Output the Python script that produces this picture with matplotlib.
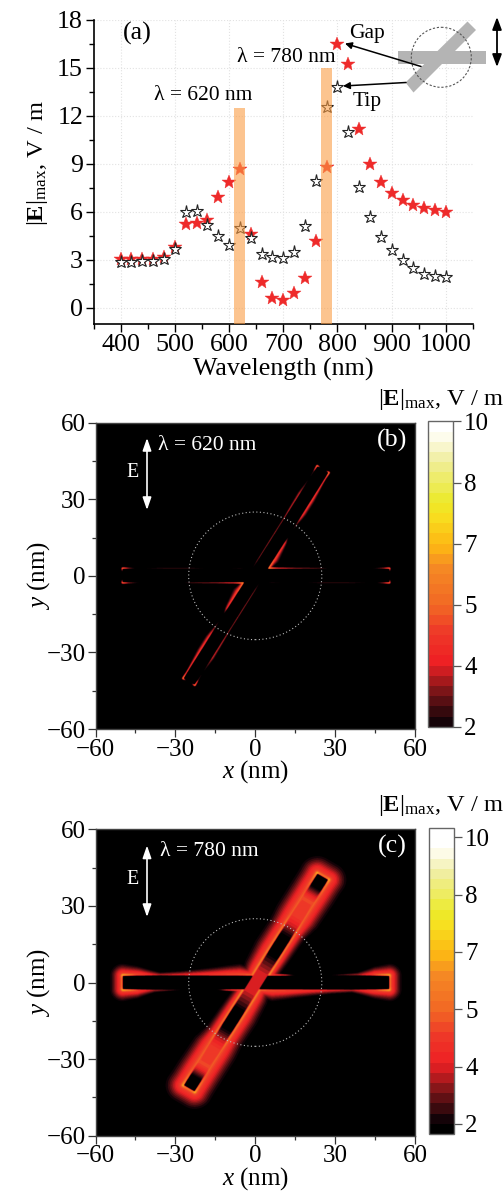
import numpy as np
import matplotlib
matplotlib.use('Agg')
import matplotlib.pyplot as plt
from matplotlib.colors import LinearSegmentedColormap, ListedColormap, Normalize
from matplotlib.patches import Circle, Polygon, Rectangle
from matplotlib.ticker import MultipleLocator

plt.rcParams['font.family'] = ['Liberation Serif', 'DejaVu Serif']
plt.rcParams['mathtext.fontset'] = 'custom'
plt.rcParams['mathtext.rm'] = 'Liberation Serif'
plt.rcParams['mathtext.bf'] = 'Liberation Serif:bold'
plt.rcParams['mathtext.it'] = 'Liberation Serif:italic'

# ---- panel (a) data
wavelength = [400, 420, 440, 460, 480, 500, 520, 540, 560, 580, 600, 620, 640, 660, 680, 700,
              720, 740, 760, 780, 800, 820, 840, 860, 880, 900, 920, 940, 960, 980, 1000]
gap_field = [3.05, 3.05, 3.05, 3.05, 3.2, 3.8, 5.25, 5.3, 5.5, 6.95, 7.85, 8.7, 4.6, 1.6, 0.65, 0.5,
             0.95, 1.9, 4.15, 8.8, 16.45, 15.25, 11.15, 9.0, 7.85, 7.2, 6.75, 6.45, 6.25, 6.1, 6.0]
tip_field = [2.85, 2.85, 2.9, 2.9, 3.05, 3.65, 6.0, 6.05, 5.2, 4.5, 3.95, 5.0, 4.35, 3.35, 3.15, 3.1,
             3.5, 5.1, 7.95, 12.55, 13.8, 10.95, 7.55, 5.65, 4.4, 3.6, 3.0, 2.5, 2.1, 2.0, 1.95]
band_centers = [620, 780]
band_tops = [12.5, 15.0]

# ---- colour scale
cb_values = [2.0, 2.8, 3.6, 4.45, 5.2, 6.2, 6.8, 7.6, 8.0, 9.1, 9.7, 10.0]
cb_colors = ['#150308', '#7a1518', '#ee2024', '#ee3a28', '#f26a24', '#f58a24',
             '#fdb813', '#f7e020', '#ecea2a', '#f0eea0', '#fdfbe8', '#ffffff']
cb_ticks = [2.0, 3.6, 5.2, 6.8, 8.4, 10.0]
cb_ticklabels = ['2', '4', '5', '7', '8', '10']
n_bands = 30

# ---- rod geometry (nm)
h_half_len, h_half_wid = 50.0, 2.7
d_angle, d_half_len, d_half_wid = 58.8, 48.5, 2.45

# ---- field along rod edges: position, edge value, halo reach
b_d_s = [-48.5, -46, -44, -36, -30, -24, -20, -16, -9, -5, -3, 0, 5, 15, 24, 28, 36, 43, 46, 48.5]
b_d_e = [10.0, 6.5, 5.5, 5.5, 4.8, 3.0, 1.5, 5.0, 6.5, 9.5, 3.0, 1.5, 4.0, 4.6, 4.4, 4.2, 4.0, 2.2, 3.5, 9.5]
b_d_w = [0.5, 0.45, 0.6, 1.3, 1.3, 0.5, 0.3, 1.0, 1.9, 0.7, 0.35, 0.3, 0.38, 0.38, 0.38, 0.6, 0.9, 0.45, 0.4, 0.5]
b_h_s = [-50, -48, -45, -35, -25, -15, -6, 0, 3.6, 5, 8, 15, 24, 30, 40, 45, 48, 50]
b_h_e = [9.0, 4.5, 2.2, 3.4, 3.4, 2.0, 3.0, 1.5, 1.5, 10.5, 6.5, 4.6, 3.8, 1.5, 1.5, 3.0, 4.5, 9.0]
b_h_w = [0.5, 0.45, 0.35, 0.35, 0.35, 0.35, 0.35, 0.3, 0.3, 0.5, 0.42, 0.38, 0.35, 0.3, 0.3, 0.35, 0.45, 0.5]

c_d_s = [-48.5, -46, -41, -30, -24, -12, -5, 0, 5, 14, 24, 30, 41, 46, 48.5]
c_d_e = [11.0, 8.0, 5.6, 5.4, 7.2, 8.0, 9.0, 7.0, 8.0, 8.0, 7.4, 5.4, 5.4, 8.0, 11.0]
c_d_w = [5.6, 5.5, 5.5, 5.2, 3.8, 3.3, 2.8, 3.3, 4.5, 5.2, 5.0, 5.5, 5.5, 5.5, 5.6]
c_h_s = [-50, -45, -36, -28, -15, -6, 2, 5, 11, 14, 20, 28, 38, 44, 50]
c_h_e = [11.0, 5.0, 3.6, 4.0, 4.6, 5.0, 8.0, 7.0, 5.6, 3.2, 1.5, 2.8, 3.4, 4.6, 11.0]
c_h_w = [3.9, 3.2, 1.3, 1.7, 2.9, 3.9, 1.3, 0.8, 0.5, 0.35, 0.2, 0.35, 1.3, 2.9, 3.9]
# field inside the tilted rod in map (c), by distance from the centre
c_in_s = [0, 4, 8, 11, 13, 20, 23, 26, 30, 38, 41, 44, 48.5]
c_in_e = [3.6, 3.6, 2.8, 2.2, 1.5, 1.5, 2.4, 3.5, 4.4, 4.6, 3.2, 1.5, 1.5]


W, H = 504, 1195
PX = 0.72  # points per pixel at dpi 100
fig = plt.figure(figsize=(W / 100, H / 100), dpi=100, facecolor='white')


def box(l, t, r, b, **kw):
    return fig.add_axes([l / W, 1 - b / H, (r - l) / W, (b - t) / H], **kw)


def rod(X, Y, angle, L, hw, s_k, e_k, w_k, hmax, tipf):
    c, s = np.cos(np.radians(angle)), np.sin(np.radians(angle))
    S = X * c + Y * s
    T = -X * s + Y * c
    ds = np.maximum(np.abs(S) - L, 0)
    dt = np.maximum(np.abs(T) - hw, 0)
    d = np.hypot(ds, dt)
    side = np.where(T >= 0, S, -S)
    edge = np.interp(side, s_k, e_k)
    reach = np.interp(side, s_k, w_k)
    face = (ds > 0) & (dt == 0)
    edge = np.where(face, edge * (tipf + (1 - tipf) * (T / hw) ** 4), edge)
    top = np.minimum(edge, hmax)
    f = 1 + (top - 1) * np.exp(-(d / reach) ** 1.6) + (edge - top) * np.exp(-d / 0.28)
    return f, (ds == 0) & (dt == 0), S


def soften(F, sigma_nm, step):
    n = F.shape[0]
    k = np.fft.fftfreq(n, d=step)
    g = np.exp(-2 * (np.pi * k * sigma_nm) ** 2)
    return np.fft.ifft2(np.fft.fft2(F) * np.outer(g, g)).real


def field_map(d_s, d_e, d_w, h_s, h_e, h_w, hmax, tipf, sigma, in_s=None, in_e=None):
    g = np.linspace(-60, 60, 961)
    X, Y = np.meshgrid(g, g)
    fh, inh, _ = rod(X, Y, 0.0, h_half_len, h_half_wid, h_s, h_e, h_w, hmax, tipf)
    fd, ind, sd = rod(X, Y, d_angle, d_half_len, d_half_wid, d_s, d_e, d_w, hmax, tipf)
    F = np.maximum(fh, fd)
    F[inh] = 1.0
    F[ind] = 1.0 if in_s is None else np.interp(np.abs(sd[ind]), in_s, in_e)
    return soften(F, sigma, g[1] - g[0])


def make_cmap(vmin, vmax):
    vals = np.array(cb_values)
    xs = (vals - vmin) / (vmax - vmin)
    nodes = [(float(x), col) for x, col in zip(xs, cb_colors) if 0 <= x <= 1]
    if nodes[0][0] > 0:
        nodes.insert(0, (0.0, '#000000'))
    if nodes[-1][0] < 1:
        nodes.append((1.0, '#ffffff'))
    base = LinearSegmentedColormap.from_list('field', nodes)
    cm = ListedColormap(base(np.linspace(0, 1, n_bands)))
    cm.set_under('black')
    cm.set_over('white')
    return cm


def map_panel(t, b, F, vmin, vmax, cb_t, cb_b, cb_l, cb_r):
    ax = box(95.5, t, 415, b)
    cmap = make_cmap(vmin, vmax)
    im = ax.imshow(F, origin='lower', extent=(-60, 60, -60, 60), aspect='auto',
                   cmap=cmap, norm=Normalize(vmin, vmax), interpolation='antialiased')
    ax.add_patch(Circle((0, 0), 25, fill=False, ec='#b8b8b8', lw=0.8, ls=(0, (1, 2.2))))
    ax.set_xlim(-60, 60)
    ax.set_ylim(-60, 60)
    ax.set_xticks([-60, -30, 0, 30, 60])
    ax.set_yticks([-60, -30, 0, 30, 60])
    ax.xaxis.set_minor_locator(MultipleLocator(15))
    ax.yaxis.set_minor_locator(MultipleLocator(15))
    ax.tick_params(which='major', length=5.5, width=0.9, labelsize=25 * PX, color='#333333', pad=1.5)
    ax.tick_params(which='minor', length=3, width=0.9, color='#333333')
    for sp in ax.spines.values():
        sp.set_color('#444444')
        sp.set_linewidth(1.0)
    ax.set_xlabel(r'$\mathit{x}$ (nm)', fontsize=25 * PX, va='center')
    ax.xaxis.set_label_coords(0.5, -43 / (b - t))
    ax.set_ylabel(r'$\mathit{y}$ (nm)', fontsize=25 * PX, va='center')
    ax.yaxis.set_label_coords(-57 / 319.5, 0.5)
    cax = box(cb_l, cb_t, cb_r, cb_b)
    cb = fig.colorbar(im, cax=cax)
    cb.set_ticks(cb_ticks)
    cb.set_ticklabels(cb_ticklabels)
    cb.ax.minorticks_off()
    cb.ax.tick_params(length=6, width=0.9, color='#555555', labelsize=25 * PX, pad=2)
    cb.outline.set_edgecolor('#666666')
    cb.outline.set_linewidth(1.0)
    return ax


# ---- (a)
ax = box(93.5, 19.5, 473, 324)
ax.grid(True, ls=':', lw=0.8, color='#e2e2e2', zorder=0)
ax.set_axisbelow(True)
ax.plot(wavelength, gap_field, ls='none', marker='*', ms=10, mfc='#ee2a2a', mec='#ee2a2a', mew=0.3, zorder=3)
ax.plot(wavelength, tip_field, ls='none', marker='*', ms=9.5, mfc='white', mec='#222222', mew=0.8, zorder=4)
for c0, top in zip(band_centers, band_tops):
    ax.bar(c0, top + 1, width=20, bottom=-1, color='#fb9d44', alpha=0.6, lw=0, zorder=5)
ax.set_xlim(350, 1050)
ax.set_ylim(-1, 18)
ax.set_xticks([400, 500, 600, 700, 800, 900, 1000])
ax.set_yticks([0, 3, 6, 9, 12, 15, 18])
ax.xaxis.set_minor_locator(MultipleLocator(50))
ax.yaxis.set_minor_locator(MultipleLocator(1.5))
ax.tick_params(which='major', length=6, width=1.0, labelsize=26 * PX, pad=1.5)
ax.tick_params(which='minor', length=3.5, width=1.0)
ax.spines['top'].set_visible(False)
ax.spines['right'].set_visible(False)
ax.spines['left'].set_linewidth(1.2)
ax.spines['bottom'].set_linewidth(1.2)
ax.set_xlabel('Wavelength (nm)', fontsize=26 * PX, va='center')
ax.xaxis.set_label_coords(0.5, -45 / 304.5)
ax.set_ylabel(r'$|\mathbf{E}|_{\mathrm{max}}$, V / m', fontsize=24.5 * PX, va='center')
ax.yaxis.set_label_coords(-56 / 379.5, 0.529)

# ---- (b), (c)
Fb = field_map(b_d_s, b_d_e, b_d_w, b_h_s, b_h_e, b_h_w, 4.2, 0.2, 0.15)
Fc = field_map(c_d_s, c_d_e, c_d_w, c_h_s, c_h_e, c_h_w, 4.8, 0.7, 0.2, c_in_s, c_in_e)
map_panel(422.7, 729, Fb, 2.0, 10.0, 421.5, 726.7, 428, 453)
map_panel(829.3, 1135.7, Fc, 1.72, 10.26, 828, 1134, 428.7, 454)

# ---- annotations in pixel coordinates
ov = fig.add_axes([0, 0, 1, 1], facecolor='none', zorder=20)
ov.set_xlim(0, W)
ov.set_ylim(H, 0)
ov.axis('off')


def label(x, y, s, size=21.5, color='black', **kw):
    ov.text(x, y, s, fontsize=size * PX, color=color, ha='center', va='center', **kw)


label(137, 33, '(a)', 26)
label(286, 57, 'λ = 780 nm')
label(203, 95, 'λ = 620 nm')
label(367, 33, 'Gap', 21.5)
label(367, 101, 'Tip', 21.5)

ov.add_patch(Rectangle((398, 51), 88, 13, fc='#b4b4b4', ec='none'))
ov.add_patch(Polygon([(413.5, 92.5), (405.5, 82.5), (467.5, 21.5), (476, 30)], fc='#b4b4b4', ec='none'))
ov.add_patch(Circle((441.3, 57.3), 30, fill=False, ec='#555555', lw=0.8, ls=(0, (2, 1.6))))
ov.annotate('', xy=(345, 43.5), xytext=(421, 66.5),
            arrowprops=dict(arrowstyle='-|>', color='black', lw=1.1, shrinkA=0, shrinkB=0))
ov.annotate('', xy=(343, 86), xytext=(406, 82.5),
            arrowprops=dict(arrowstyle='-|>', color='black', lw=1.1, shrinkA=0, shrinkB=0))
ov.annotate('', xy=(497, 17), xytext=(497, 67),
            arrowprops=dict(arrowstyle='<|-|>,head_width=0.28,head_length=0.75', color='black', lw=1.3, shrinkA=0, shrinkB=0))

for y_top, y_bot, y_e, y_lam, y_tag, lam, tag, xlam in [
        (438, 510, 472.7, 445.7, 440.7, 'λ = 620 nm', '(b)', 207),
        (845.5, 917, 879, 851.7, 846.7, 'λ = 780 nm', '(c)', 209)]:
    ov.annotate('', xy=(147, y_top), xytext=(147, y_bot),
                arrowprops=dict(arrowstyle='<|-|>,head_width=0.26,head_length=0.75', color='white', lw=1.2, shrinkA=0, shrinkB=0))
    label(132.5, y_e, 'E', 20, 'white')
    label(xlam, y_lam, lam, 21.5, 'white')
    label(392, y_tag, tag, 26, 'white')

label(441, 399, r'$|\mathbf{E}|_{\mathrm{max}}$, V / m', 24.5)
label(441, 805, r'$|\mathbf{E}|_{\mathrm{max}}$, V / m', 24.5)

fig.savefig('out.png', dpi=100)
